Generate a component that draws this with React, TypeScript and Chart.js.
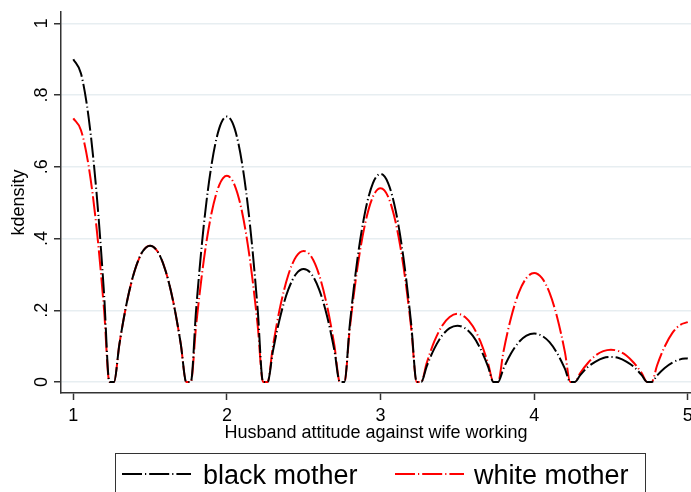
import React, { useEffect, useRef } from "react";
import { Chart, registerables } from "chart.js";

Chart.register(...registerables);

// x positions along "Husband attitude against wife working"
const xValues = [
  1, 1.05, 1.1, 1.15, 1.2, 1.235, 1.265, 1.3, 1.35, 1.4, 1.45,
  1.5, 1.55, 1.6, 1.65, 1.7, 1.735, 1.765, 1.8, 1.85, 1.9, 1.95,
  2, 2.05, 2.1, 2.15, 2.2, 2.235, 2.265, 2.3, 2.35, 2.4, 2.45,
  2.5, 2.55, 2.6, 2.65, 2.7, 2.735, 2.765, 2.8, 2.85, 2.9, 2.95,
  3, 3.05, 3.1, 3.15, 3.2, 3.235, 3.265, 3.3, 3.35, 3.4, 3.45,
  3.5, 3.55, 3.6, 3.65, 3.7, 3.735, 3.765, 3.8, 3.85, 3.9, 3.95,
  4, 4.05, 4.1, 4.15, 4.2, 4.235, 4.265, 4.3, 4.35, 4.4, 4.45,
  4.5, 4.55, 4.6, 4.65, 4.7, 4.735, 4.765, 4.8, 4.85, 4.9, 4.95,
  5,
];

const blackMother = [
  0.9, 0.86, 0.737, 0.534, 0.248, 0, 0, 0.105, 0.225, 0.311, 0.363,
  0.38, 0.363, 0.311, 0.225, 0.105, 0, 0, 0.204, 0.439, 0.606, 0.707,
  0.74, 0.707, 0.606, 0.439, 0.204, 0, 0, 0.087, 0.187, 0.258, 0.301,
  0.315, 0.301, 0.258, 0.187, 0.087, 0, 0, 0.16, 0.344, 0.475, 0.554,
  0.58, 0.554, 0.475, 0.344, 0.16, 0, 0, 0.043, 0.093, 0.129, 0.15,
  0.157, 0.15, 0.129, 0.093, 0.043, 0, 0, 0.037, 0.08, 0.111, 0.129,
  0.135, 0.129, 0.111, 0.08, 0.037, 0, 0, 0.019, 0.042, 0.057, 0.067,
  0.07, 0.067, 0.057, 0.042, 0.019, 0, 0, 0.018, 0.039, 0.054, 0.063,
  0.066,
];

const whiteMother = [
  0.735, 0.702, 0.602, 0.436, 0.203, 0, 0, 0.105, 0.225, 0.311, 0.363,
  0.38, 0.363, 0.311, 0.225, 0.105, 0, 0, 0.159, 0.341, 0.471, 0.549,
  0.575, 0.549, 0.471, 0.341, 0.159, 0, 0, 0.101, 0.216, 0.299, 0.349,
  0.365, 0.349, 0.299, 0.216, 0.101, 0, 0, 0.149, 0.32, 0.442, 0.516,
  0.54, 0.516, 0.442, 0.32, 0.149, 0, 0, 0.052, 0.113, 0.156, 0.181,
  0.19, 0.181, 0.156, 0.113, 0.052, 0, 0, 0.084, 0.18, 0.249, 0.29,
  0.304, 0.29, 0.249, 0.18, 0.084, 0, 0, 0.025, 0.053, 0.074, 0.086,
  0.09, 0.086, 0.074, 0.053, 0.025, 0, 0, 0.046, 0.099, 0.137, 0.159,
  0.167,
];

const seriesNames = ["black mother", "white mother"];
const xTickValues = [1, 2, 3, 4, 5];
const yTickValues = [0, 0.2, 0.4, 0.6, 0.8, 1];
const yTickLabels = ["0", ".2", ".4", ".6", ".8", "1"];
const xTitle = "Husband attitude against wife working";
const yTitle = "kdensity";

const FONT = "'Liberation Sans', Arial, sans-serif";
const BLACK_DASH = [20, 3, 1.2, 3];
const RED_DASH = [20, 3, 1.2, 3];

export default function App() {
  const ref = useRef<HTMLCanvasElement>(null);

  useEffect(() => {
    const canvas = ref.current!;

    const yLabelPlugin = {
      id: "yRotatedLabels",
      afterDraw(chart: any) {
        const ctx = chart.ctx;
        const ys = chart.scales.y;
        ctx.save();
        ctx.fillStyle = "#000";
        ctx.font = `18px ${FONT}`;
        ctx.textAlign = "center";
        ctx.textBaseline = "middle";
        yTickValues.forEach((v, i) => {
          const py = ys.getPixelForValue(v);
          ctx.save();
          ctx.translate(42.5, py);
          ctx.rotate(-Math.PI / 2);
          ctx.fillText(yTickLabels[i], 0, 0);
          ctx.restore();
        });
        ctx.restore();
      },
    };

    const legendPlugin = {
      id: "boxLegend",
      afterDraw(chart: any) {
        const ctx = chart.ctx;
        ctx.save();
        ctx.strokeStyle = "#333";
        ctx.lineWidth = 1;
        ctx.setLineDash([]);
        ctx.strokeRect(115.5, 453.5, 530, 60);
        const items = [
          { x0: 122, x1: 191, tx: 203, ds: chart.data.datasets[0] },
          { x0: 395, x1: 464, tx: 474, ds: chart.data.datasets[1] },
        ];
        items.forEach((it) => {
          ctx.save();
          ctx.strokeStyle = it.ds.borderColor;
          ctx.lineWidth = 2;
          ctx.setLineDash(it.ds.borderDash);
          ctx.beginPath();
          ctx.moveTo(it.x0, 474);
          ctx.lineTo(it.x1, 474);
          ctx.stroke();
          ctx.restore();
          ctx.fillStyle = "#000";
          ctx.font = `27px ${FONT}`;
          ctx.textAlign = "left";
          ctx.textBaseline = "alphabetic";
          ctx.fillText(it.ds.label, it.tx, 484);
        });
        ctx.restore();
      },
    };

    const chart = new Chart(canvas, {
      type: "line",
      data: {
        datasets: [
          {
            label: seriesNames[0],
            data: xValues.map((x, i) => ({ x, y: blackMother[i] })),
            borderColor: "#000000",
            borderWidth: 2,
            borderDash: BLACK_DASH,
            pointRadius: 0,
            cubicInterpolationMode: "monotone",
            fill: false,
          },
          {
            label: seriesNames[1],
            data: xValues.map((x, i) => ({ x, y: whiteMother[i] })),
            borderColor: "#ff0000",
            borderWidth: 2,
            borderDash: RED_DASH,
            pointRadius: 0,
            cubicInterpolationMode: "monotone",
            fill: false,
          },
        ],
      },
      options: {
        animation: false,
        responsive: false,
        devicePixelRatio: 1,
        layout: { padding: { top: 12, right: 0, bottom: 44, left: 0 } },
        plugins: {
          legend: { display: false },
          tooltip: { enabled: false },
        },
        scales: {
          x: {
            type: "linear",
            min: 0.92,
            max: 5.021,
            afterBuildTicks: (s: any) => {
              s.ticks = xTickValues.map((v) => ({ value: v }));
            },
            ticks: {
              font: { family: FONT, size: 18 },
              color: "#000",
              padding: 5,
              maxRotation: 0,
              minRotation: 0,
              autoSkip: false,
              callback: (v: any) => String(v),
            },
            grid: {
              drawOnChartArea: false,
              tickLength: 7,
              tickColor: "#333",
              tickWidth: 1.5,
            },
            border: { color: "#333", width: 1.5 },
            title: {
              display: true,
              text: xTitle,
              color: "#000",
              font: { family: FONT, size: 18 },
              padding: { top: 0, bottom: 4 },
            },
            afterFit: (s: any) => {
              s.height = 55;
              s.paddingLeft = 0;
              s.paddingRight = 0;
            },
          },
          y: {
            type: "linear",
            min: -0.0307,
            max: 1.0315,
            afterBuildTicks: (s: any) => {
              s.ticks = yTickValues.map((v) => ({ value: v }));
            },
            ticks: { display: false },
            grid: {
              color: "#e7eef1",
              lineWidth: 1.5,
              tickLength: 7,
              tickColor: "#333",
              tickWidth: 1.5,
            },
            border: { color: "#333", width: 1.5 },
            title: {
              display: true,
              text: yTitle,
              color: "#000",
              font: { family: FONT, size: 18 },
              padding: { top: 8, bottom: 0 },
            },
            afterFit: (s: any) => {
              s.width = 61;
              s.paddingTop = 0;
              s.paddingBottom = 0;
            },
          },
        },
      } as any,
      plugins: [yLabelPlugin, legendPlugin],
    });

    return () => chart.destroy();
  }, []);

  return (
    <div
      style={{
        position: "absolute",
        left: 0,
        top: 0,
        width: 691,
        height: 492,
        background: "#fff",
        overflow: "hidden",
      }}
    >
      <canvas ref={ref} width={691} height={492} style={{ display: "block" }} />
    </div>
  );
}
